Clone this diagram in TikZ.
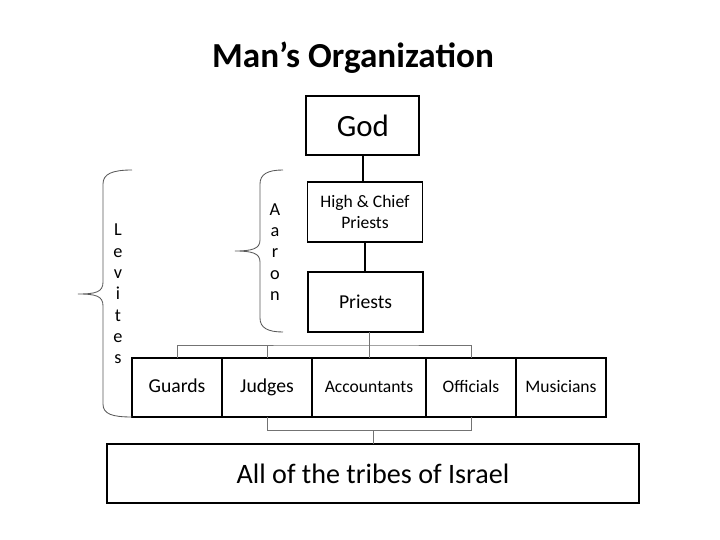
\documentclass[tikz,border=0pt]{standalone}
\usepackage{fontspec}
\setmainfont{Carlito}
\usetikzlibrary{calc,positioning}

\begin{document}
\begin{tikzpicture}[
    box/.style={draw, line width=1.3pt, minimum width=2.875cm, minimum height=1.5cm,
                align=center, inner sep=2pt, outer sep=0pt},
    rowbox/.style={draw, line width=1.3pt, minimum width=2.25cm, minimum height=1.475cm,
                   inner sep=2pt, outer sep=0pt, text height=2ex, text depth=0.6ex,
                   font=\fontsize{14}{16}\selectfont},
    smallrow/.style={font=\fontsize{12.5}{15}\selectfont},
    bar/.style={line width=1.5pt},
    link/.style={line width=0.7pt, black!55},
    brace/.style={line width=0.6pt, black!65},
    letters/.style={align=center, font=\fontsize{13}{15.2}\selectfont}
]

% Canvas
\fill[white] (0,0) rectangle (18,13.5);
\useasboundingbox (0,0) rectangle (18,13.5);

% Title
\node[font=\fontsize{25}{30}\selectfont\bfseries] (title) at (8.825,12.05) {Man’s Organization};

% Chain of command
\node[box, minimum width=2.825cm, minimum height=1.475cm, font=\fontsize{22}{26}\selectfont]
    (god) at (9.07,10.36) {God};
\node[box, font=\fontsize{12.5}{14.5}\selectfont] (high) at (9.125,8.2) {High \& Chief\\Priests};
\node[box, font=\fontsize{14}{16}\selectfont] (priests) at (9.14,5.95) {Priests};

\draw[bar] (god.south) -- (god.south |- high.north);
\draw[bar] (high.south) -- (high.south |- priests.north);

% Levite offices
\node[rowbox] (guards) at (4.425,3.8125) {Guards};
\node[rowbox, right=0pt of guards] (judges) {Judges};
\node[rowbox, smallrow, minimum width=2.85cm, right=0pt of judges] (accountants) {Accountants};
\node[rowbox, smallrow, right=0pt of accountants] (officials) {Officials};
\node[rowbox, smallrow, right=0pt of officials] (musicians) {Musicians};

% The people
\node[box, minimum width=13.3cm, minimum height=1.475cm, font=\fontsize{20}{24}\selectfont]
    (tribes) at (9.325,1.6625) {All of the tribes of Israel};

% Connectors
\coordinate (upper) at ($(priests.south)!0.5!(accountants.north)$);
\coordinate (lower) at ($(accountants.south)!0.5!(tribes.north)$);

\draw[link] (accountants.north) -- (accountants.north |- priests.south);
\draw[link] (guards.north) |- (upper) -| (officials.north);
\draw[link] (judges.north) -- (judges.north |- upper);

\draw[link] (judges.south) |- (lower) -| (officials.south);
\draw[link] (tribes.north) -- (tribes.north |- lower);

% Braces
\draw[brace] (3.3,9.25) .. controls (2.8,9.25) and (2.575,9.15) .. (2.575,8.9)
    -- (2.575,6.45) .. controls (2.575,6.2) and (2.4,6.15) .. (1.95,6.15)
    .. controls (2.4,6.15) and (2.575,6.1) .. (2.575,5.85)
    -- (2.575,3.4) .. controls (2.575,3.15) and (2.8,3.075) .. (3.3,3.075);
\node[letters] (levites) at (2.95,6.15) {L\\e\\v\\i\\t\\e\\s};

\draw[brace] (7.075,9.25) .. controls (6.7,9.25) and (6.5,9.15) .. (6.5,8.9)
    -- (6.5,7.5) .. controls (6.5,7.28) and (6.3,7.225) .. (5.875,7.225)
    .. controls (6.3,7.225) and (6.5,7.17) .. (6.5,6.95)
    -- (6.5,5.55) .. controls (6.5,5.3) and (6.7,5.2) .. (7.075,5.2);
\node[letters] (aaron) at (6.875,7.2) {A\\a\\r\\o\\n};

\end{tikzpicture}
\end{document}
